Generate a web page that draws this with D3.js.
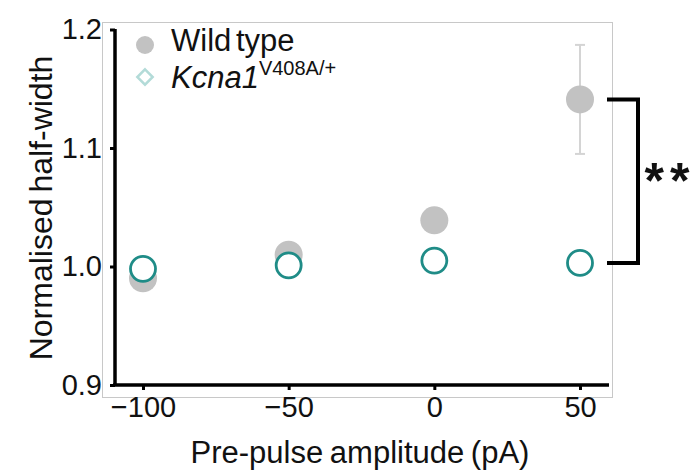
<!DOCTYPE html>
<html>
<head>
<meta charset="utf-8">
<script src="https://cdn.jsdelivr.net/npm/d3@7"></script>
<style>
  body { margin: 0; background: #fff; }
  svg { display: block; font-family: Arial, "Liberation Sans", sans-serif; }
</style>
</head>
<body>
<div id="chart"></div>
<script>
// data
const prePulse = [-100, -50, 0, 50];
const wildType = [0.990, 1.010, 1.039, 1.141];
const wildTypeErr = [0.006, 0.006, 0.006, 0.046];
const kcna1 = [0.998, 1.001, 1.005, 1.003];
const kcna1Err = [0.005, 0.005, 0.005, 0.005];
const xTicks = [-100, -50, 0, 50];
const yTicks = [0.9, 1.0, 1.1, 1.2];

const width = 694, height = 472;

const svg = d3.select("#chart").append("svg")
    .attr("width", width)
    .attr("height", height);

const x = d3.scaleLinear().domain([-100, 50]).range([143, 580]);
const y = d3.scaleLinear().domain([0.9, 1.2]).range([385, 29.5]);

// light frame
svg.append("rect")
    .attr("x", 102.5).attr("y", 22.5)
    .attr("width", 510).attr("height", 375)
    .attr("fill", "none")
    .attr("stroke", "#c8c8c8")
    .attr("stroke-width", 1);

// axes
const xAxis = svg.append("g")
    .attr("transform", "translate(0,385)")
    .call(d3.axisBottom(x).tickValues(xTicks).tickSize(5).tickPadding(6)
        .tickFormat(d => d < 0 ? "\u2212" + Math.abs(d) : d));
xAxis.select(".domain").attr("d", "M113,0H609");

const yAxis = svg.append("g")
    .attr("transform", "translate(115,0)")
    .call(d3.axisLeft(y).tickValues(yTicks).tickSize(5).tickPadding(8)
        .tickFormat(d3.format(".1f")));
yAxis.select(".domain").attr("d", "M0,29V386");

svg.selectAll(".domain").attr("stroke", "#000").attr("stroke-width", 3.5);
svg.selectAll(".tick line").attr("stroke", "#000").attr("stroke-width", 3);
svg.selectAll(".tick text").attr("font-size", 29).attr("fill", "#111")
    .attr("font-family", "Arial, 'Liberation Sans', sans-serif");

// axis titles
svg.append("text")
    .attr("x", 360).attr("y", 463)
    .attr("text-anchor", "middle")
    .attr("font-size", 31).attr("fill", "#111")
    .attr("word-spacing", -2)
    .text("Pre-pulse amplitude (pA)");

svg.append("text")
    .attr("transform", "translate(52,208) rotate(-90)")
    .attr("text-anchor", "middle")
    .attr("font-size", 32).attr("fill", "#111")
    .attr("word-spacing", -3)
    .text("Normalised half-width");

// wild type error bars
const wtErr = svg.append("g").attr("stroke", "#d4d4d4").attr("stroke-width", 2);
prePulse.forEach((p, i) => {
    wtErr.append("line")
        .attr("x1", x(p)).attr("x2", x(p))
        .attr("y1", y(wildType[i] + wildTypeErr[i]))
        .attr("y2", y(wildType[i] - wildTypeErr[i]));
    [wildType[i] + wildTypeErr[i], wildType[i] - wildTypeErr[i]].forEach(v => {
        wtErr.append("line")
            .attr("x1", x(p) - 5).attr("x2", x(p) + 5)
            .attr("y1", y(v)).attr("y2", y(v));
    });
});

// wild type points
svg.append("g").selectAll("circle")
    .data(prePulse)
    .join("circle")
    .attr("cx", d => x(d))
    .attr("cy", (d, i) => y(wildType[i]))
    .attr("r", 14)
    .attr("fill", "#c2c2c2");

// kcna1 error bars (hidden behind markers)
const koErr = svg.append("g").attr("stroke", "#21908c").attr("stroke-width", 2);
prePulse.forEach((p, i) => {
    koErr.append("line")
        .attr("x1", x(p)).attr("x2", x(p))
        .attr("y1", y(kcna1[i] + kcna1Err[i]))
        .attr("y2", y(kcna1[i] - kcna1Err[i]));
});

// kcna1 points
svg.append("g").selectAll("circle")
    .data(prePulse)
    .join("circle")
    .attr("cx", d => x(d))
    .attr("cy", (d, i) => y(kcna1[i]))
    .attr("r", 12.5)
    .attr("fill", "#fff")
    .attr("stroke", "#1f8c87")
    .attr("stroke-width", 2.8);

// significance bracket at 50 pA
const last = prePulse.length - 1;
const bx0 = x(prePulse[last]) + 27, bx1 = x(prePulse[last]) + 58;
svg.append("path")
    .attr("d", `M${bx0},${y(wildType[last])}H${bx1}V${y(kcna1[last])}H${bx0}`)
    .attr("fill", "none")
    .attr("stroke", "#000")
    .attr("stroke-width", 4);

svg.append("text")
    .attr("x", 670).attr("y", (y(wildType[last]) + y(kcna1[last])) / 2 + 17)
    .attr("text-anchor", "middle")
    .attr("font-size", 50).attr("font-weight", "bold")
    .attr("letter-spacing", 6)
    .attr("fill", "#111")
    .text("**");

// legend
const legend = svg.append("g");
legend.append("circle")
    .attr("cx", 145).attr("cy", 45).attr("r", 9)
    .attr("fill", "#c2c2c2");
legend.append("text")
    .attr("x", 171).attr("y", 51)
    .attr("font-size", 31).attr("fill", "#111")
    .attr("word-spacing", -4)
    .text("Wild type");

legend.append("path")
    .attr("d", d3.symbol(d3.symbolDiamond2, 150)())
    .attr("transform", "translate(145,77)")
    .attr("fill", "none")
    .attr("stroke", "#b3dbd8")
    .attr("stroke-width", 2.5);
const kt = legend.append("text")
    .attr("x", 171).attr("y", 88)
    .attr("font-size", 31).attr("fill", "#111");
kt.append("tspan").attr("font-style", "italic").text("Kcna1");
kt.append("tspan").attr("font-size", 20).attr("dy", -13).text("V408A/+");
</script>
</body>
</html>
